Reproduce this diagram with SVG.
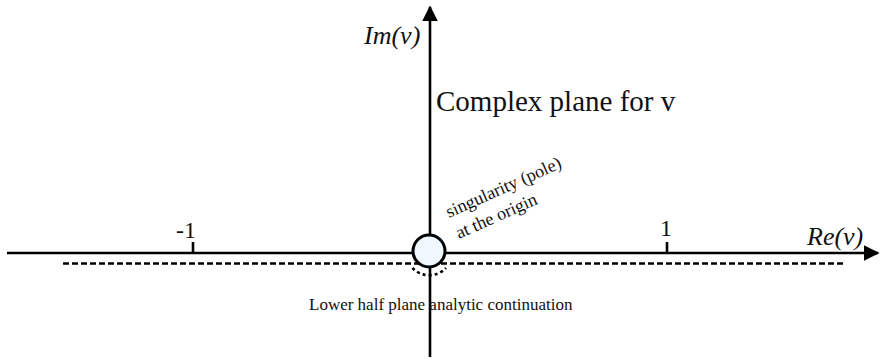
<svg xmlns="http://www.w3.org/2000/svg" width="881" height="361" viewBox="0 0 881 361">
  <defs>
    <style>
      .ax { stroke: #000; stroke-width: 2.6; fill: none; }
      .lbl { font-family: "Liberation Serif", "Times New Roman", serif; fill: #111; }
      .it { font-style: italic; }
    </style>
    <marker id="arr" viewBox="0 0 10 10" refX="9" refY="5" markerWidth="6" markerHeight="6" markerUnits="strokeWidth" orient="auto">
      <path d="M0,0 L10,5 L0,10 z" fill="#000"/>
    </marker>
  </defs>
  <rect width="881" height="361" fill="#fff"/>
  <g id="connectors">
    <line class="ax" x1="7" y1="253" x2="878" y2="253" marker-end="url(#arr)"/>
    <line class="ax" x1="430" y1="357" x2="430" y2="7" stroke-width="2.2" marker-end="url(#arr)"/>
    <line class="ax" x1="63" y1="263.5" x2="846" y2="263.5" stroke-dasharray="6,3"/>
    <path class="ax" d="M412.5,268 A23,23 0 0 0 446,268" stroke-dasharray="3,3"/>
    <line class="ax" x1="193" y1="242" x2="193" y2="253" stroke-width="2"/>
    <line class="ax" x1="667" y1="242" x2="667" y2="253" stroke-width="2"/>
  </g>
  <g id="pole">
    <circle cx="429" cy="251" r="16" fill="#f0f8ff" stroke="#000" stroke-width="3"/>
  </g>
  <g id="labels">
    <text class="lbl it" x="364" y="44" font-size="26">Im(v)</text>
    <text class="lbl it" x="807" y="245" font-size="26">Re(v)</text>
    <text class="lbl" x="176" y="238" font-size="24">-1</text>
    <text class="lbl" x="660" y="236" font-size="24">1</text>
    <text class="lbl" x="436" y="111" font-size="29">Complex plane for v</text>
    <text class="lbl" font-size="18" transform="translate(449,218) rotate(-24)">singularity (pole)</text>
    <text class="lbl" font-size="18" transform="translate(459,239) rotate(-24)">at the origin</text>
    <text class="lbl" x="309" y="310" font-size="17">Lower half plane analytic continuation</text>
  </g>
</svg>
